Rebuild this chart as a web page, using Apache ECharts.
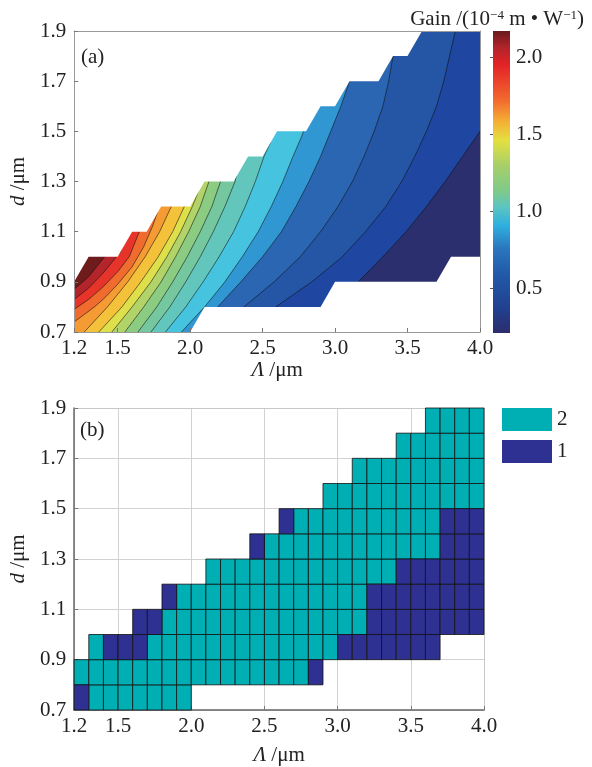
<!DOCTYPE html>
<html>
<head>
<meta charset="utf-8">
<script src="https://cdn.jsdelivr.net/npm/echarts@6/dist/echarts.min.js"></script>
<style>
  html, body { margin: 0; padding: 0; background: #fff; }
  #chart { width: 592px; height: 767px; }
</style>
</head>
<body>
<div id="chart"></div>
<script>
  // axis ticks
  const lambdaTicks = [1.2, 1.5, 2.0, 2.5, 3.0, 3.5, 4.0]
  const dTicks = [0.7, 0.9, 1.1, 1.3, 1.5, 1.7, 1.9]
  const gainTicks = [0.5, 1.0, 1.5, 2.0]
  const gainMin = 0.21
  const gainMax = 2.17

  // (a) contour levels and the traced iso-lines, [Λ, d], bottom -> top
  const levels = [0.42, 0.53, 0.64, 0.75, 0.86, 0.97, 1.08, 1.19, 1.30, 1.41, 1.52, 1.63, 1.74, 1.85, 1.96, 2.07]
  const contourLines = [
    [[2.95, 0.64], [3.06, 0.8], [3.16, 0.9], [3.33, 1.0], [3.49, 1.1], [3.63, 1.2], [3.76, 1.3], [3.88, 1.4], [4.0, 1.5], [4.12, 1.62]],
    [[2.48, 0.66], [2.59, 0.8], [2.84, 0.9], [3.05, 1.0], [3.21, 1.1], [3.35, 1.2], [3.46, 1.3], [3.55, 1.4], [3.63, 1.5], [3.7, 1.6], [3.75, 1.7], [3.79, 1.8], [3.83, 1.9], [3.86, 1.98]],
    [[2.28, 0.66], [2.37, 0.8], [2.58, 0.9], [2.76, 1.0], [2.9, 1.1], [3.02, 1.2], [3.12, 1.3], [3.2, 1.4], [3.27, 1.5], [3.33, 1.6], [3.37, 1.7], [3.4, 1.8], [3.42, 1.86]],
    [[2.08, 0.66], [2.19, 0.8], [2.35, 0.9], [2.5, 1.0], [2.63, 1.1], [2.73, 1.2], [2.82, 1.3], [2.9, 1.4], [2.97, 1.5], [3.04, 1.6], [3.1, 1.7], [3.13, 1.78]],
    [[1.82, 0.62], [1.94, 0.7], [2.1, 0.8], [2.24, 0.9], [2.36, 1.0], [2.47, 1.1], [2.56, 1.2], [2.64, 1.3], [2.71, 1.4], [2.77, 1.48], [2.8, 1.53], [2.84, 1.6]],
    [[1.71, 0.62], [1.83, 0.7], [1.97, 0.8], [2.09, 0.9], [2.2, 1.0], [2.3, 1.1], [2.38, 1.2], [2.45, 1.3], [2.51, 1.4], [2.55, 1.45], [2.58, 1.52]],
    [[1.61, 0.62], [1.73, 0.7], [1.86, 0.8], [1.97, 0.9], [2.07, 1.0], [2.16, 1.1], [2.24, 1.2], [2.31, 1.3], [2.34, 1.38]],
    [[1.52, 0.62], [1.64, 0.7], [1.77, 0.8], [1.88, 0.9], [1.98, 1.0], [2.07, 1.1], [2.15, 1.2], [2.21, 1.3], [2.24, 1.38]],
    [[1.43, 0.62], [1.55, 0.7], [1.68, 0.8], [1.8, 0.9], [1.9, 1.0], [1.99, 1.1], [2.07, 1.2], [2.13, 1.3], [2.16, 1.37]],
    [[1.34, 0.62], [1.46, 0.7], [1.6, 0.8], [1.73, 0.9], [1.84, 1.0], [1.935, 1.1], [2.015, 1.2], [2.05, 1.25], [2.08, 1.32]],
    [[1.25, 0.62], [1.37, 0.7], [1.53, 0.8], [1.66, 0.9], [1.78, 1.0], [1.88, 1.1], [1.96, 1.2], [1.99, 1.27]],
    [[1.15, 0.62], [1.27, 0.7], [1.43, 0.8], [1.57, 0.9], [1.69, 1.0], [1.79, 1.1], [1.87, 1.2], [1.9, 1.27]],
    [[1.1, 0.72], [1.2, 0.74], [1.27, 0.77], [1.34, 0.8], [1.4, 0.83], [1.5, 0.89], [1.6, 0.96], [1.68, 1.04], [1.74, 1.12], [1.77, 1.17], [1.8, 1.24]],
    [[1.1, 0.77], [1.2, 0.79], [1.3, 0.83], [1.4, 0.88], [1.5, 0.94], [1.58, 1.0], [1.65, 1.1], [1.68, 1.16]],
    [[1.1, 0.81], [1.2, 0.83], [1.3, 0.875], [1.4, 0.935], [1.52, 1.02], [1.56, 1.1]],
    [[1.1, 0.85], [1.2, 0.87], [1.3, 0.92], [1.41, 1.0], [1.45, 1.06]]
  ]
  // edges of the computed region
  const topEdge = [[1.2, 0.9], [1.3, 1.0], [1.5, 1.0], [1.6, 1.1], [1.7, 1.1], [1.8, 1.2], [2.0, 1.2], [2.1, 1.3], [2.3, 1.3],
    [2.4, 1.4], [2.5, 1.4], [2.6, 1.5], [2.8, 1.5], [2.9, 1.6], [3.0, 1.6], [3.1, 1.7], [3.3, 1.7], [3.4, 1.8], [3.5, 1.8], [3.6, 1.9]]
  const bottomEdge = [[2.0, 0.7], [2.1, 0.8], [2.9, 0.8], [3.0, 0.9], [3.7, 0.9], [3.8, 1.0], [4.0, 1.0]]

  const bandColors = ['#2c2f6d', '#1f46a0', '#2456a5', '#2b66b2', '#3197d3', '#45c3df', '#62c6bc', '#74c79f', '#8bcb82',
    '#b1d36a', '#dde04b', '#f4c13a', '#f59b33', '#f06c2e', '#e7342a', '#b3252a', '#6e1b1c']
  const cmapValues = [0.21, 0.36, 0.58, 0.75, 0.91, 1.03, 1.12, 1.29, 1.46, 1.58, 1.72, 1.95, 2.06, 2.17]
  const cmapColors = ['#2c2c6b', '#213f8f', '#2158a8', '#2a74bd', '#2fb0e0', '#5cc6c0', '#7cc98e', '#a5cf6a', '#e3e040',
    '#f5b035', '#f26a2e', '#e42227', '#b3242a', '#6b1a1c']

  // (b) cell classes, rows = lower d edge, columns = lower Λ edge (0 = no cell)
  const cellStep = 0.1
  const cellLambda = [1.2, 1.3, 1.4, 1.5, 1.6, 1.7, 1.8, 1.9, 2.0, 2.1, 2.2, 2.3, 2.4, 2.5, 2.6, 2.7, 2.8, 2.9, 3.0, 3.1, 3.2, 3.3, 3.4, 3.5, 3.6, 3.7, 3.8, 3.9]
  const cellD = [0.7, 0.8, 0.9, 1.0, 1.1, 1.2, 1.3, 1.4, 1.5, 1.6, 1.7, 1.8]
  const cellClass = [
    [1, 2, 2, 2, 2, 2, 2, 2, 0, 0, 0, 0, 0, 0, 0, 0, 0, 0, 0, 0, 0, 0, 0, 0, 0, 0, 0, 0],
    [2, 2, 2, 2, 2, 2, 2, 2, 2, 2, 2, 2, 2, 2, 2, 2, 1, 0, 0, 0, 0, 0, 0, 0, 0, 0, 0, 0],
    [0, 2, 1, 1, 1, 2, 2, 2, 2, 2, 2, 2, 2, 2, 2, 2, 2, 2, 1, 1, 1, 1, 1, 1, 1, 0, 0, 0],
    [0, 0, 0, 0, 1, 1, 2, 2, 2, 2, 2, 2, 2, 2, 2, 2, 2, 2, 2, 2, 1, 1, 1, 1, 1, 1, 1, 1],
    [0, 0, 0, 0, 0, 0, 1, 2, 2, 2, 2, 2, 2, 2, 2, 2, 2, 2, 2, 2, 1, 1, 1, 1, 1, 1, 1, 1],
    [0, 0, 0, 0, 0, 0, 0, 0, 0, 2, 2, 2, 2, 2, 2, 2, 2, 2, 2, 2, 2, 2, 1, 1, 1, 1, 1, 1],
    [0, 0, 0, 0, 0, 0, 0, 0, 0, 0, 0, 0, 1, 2, 2, 2, 2, 2, 2, 2, 2, 2, 2, 2, 2, 1, 1, 1],
    [0, 0, 0, 0, 0, 0, 0, 0, 0, 0, 0, 0, 0, 0, 1, 2, 2, 2, 2, 2, 2, 2, 2, 2, 2, 1, 1, 1],
    [0, 0, 0, 0, 0, 0, 0, 0, 0, 0, 0, 0, 0, 0, 0, 0, 0, 2, 2, 2, 2, 2, 2, 2, 2, 2, 2, 2],
    [0, 0, 0, 0, 0, 0, 0, 0, 0, 0, 0, 0, 0, 0, 0, 0, 0, 0, 0, 2, 2, 2, 2, 2, 2, 2, 2, 2],
    [0, 0, 0, 0, 0, 0, 0, 0, 0, 0, 0, 0, 0, 0, 0, 0, 0, 0, 0, 0, 0, 0, 2, 2, 2, 2, 2, 2],
    [0, 0, 0, 0, 0, 0, 0, 0, 0, 0, 0, 0, 0, 0, 0, 0, 0, 0, 0, 0, 0, 0, 0, 0, 2, 2, 2, 2]
  ]
  const classColors = { 2: '#00afb3', 1: '#2e3192' }

  const serif = "'Liberation Serif', 'DejaVu Serif', serif"
  const txt = '#222'

  function cellsOf(cls) {
    const out = []
    cellD.forEach((d, r) => {
      cellClass[r].forEach((c, i) => {
        if (c === cls) out.push([cellLambda[i], d])
      })
    })
    return out
  }

  function bandItem(params, api) {
    const k = params.dataIndex
    let pts
    if (k === 0) {
      pts = [[1.0, 0.5], [4.5, 0.5], [4.5, 2.6], [1.0, 2.6]]
    } else {
      const line = contourLines[k - 1]
      const first = line[0]
      const last = line[line.length - 1]
      pts = line.concat([[last[0], 2.6], [0.5, 2.6], [0.5, first[1]]])
    }
    return {
      type: 'polygon',
      z2: k,
      shape: { points: pts.map(p => api.coord(p)) },
      style: { fill: bandColors[k] }
    }
  }

  function contourItem(params, api) {
    return {
      type: 'polyline',
      shape: { points: contourLines[params.dataIndex].map(p => api.coord(p)) },
      style: { stroke: 'rgba(15,15,15,0.8)', lineWidth: 0.7, fill: null }
    }
  }

  function maskItem(params, api) {
    const pts = params.dataIndex === 0
      ? topEdge.concat([[3.6, 2.6], [1.0, 2.6], [1.0, 0.9]])
      : bottomEdge.concat([[4.5, 1.0], [4.5, 0.5], [2.0, 0.5]])
    return {
      type: 'polygon',
      shape: { points: pts.map(p => api.coord(p)) },
      style: { fill: '#fff' }
    }
  }

  function cellItem(params, api) {
    const x = api.value(0)
    const y = api.value(1)
    const p0 = api.coord([x, y + cellStep])
    const p1 = api.coord([x + cellStep, y])
    return {
      type: 'rect',
      shape: { x: p0[0], y: p0[1], width: p1[0] - p0[0], height: p1[1] - p0[1] },
      style: { fill: api.visual('color'), stroke: '#111', lineWidth: 0.8 }
    }
  }

  function colorbarItem(params, api) {
    const p0 = api.coord([0, gainMax])
    const p1 = api.coord([1, gainMin])
    const stops = cmapValues.map((v, i) => ({
      offset: (gainMax - v) / (gainMax - gainMin),
      color: cmapColors[i]
    })).reverse()
    return {
      type: 'rect',
      shape: { x: p0[0], y: p0[1], width: p1[0] - p0[0], height: p1[1] - p0[1] },
      style: { fill: new echarts.graphic.LinearGradient(0, 0, 0, 1, stops) }
    }
  }

  const label = { fontSize: 21, fontFamily: serif, color: txt }
  const nameStyle = { fontSize: 21, fontFamily: serif, color: txt, rich: { i: { fontSize: 21, fontFamily: serif, fontStyle: 'italic', color: txt } } }
  const fmt = v => v.toFixed(1)

  // panel (a) axes sit above the masks, panel (b) axes under the cells
  function xBottom(grid, lineColor, lineWidth, gap) {
    return {
      type: 'value', gridIndex: grid, min: 1.2, max: 4.0, position: 'bottom', z: grid === 1 ? 1 : 10,
      name: '{i|Λ} /μm', nameLocation: 'middle', nameGap: gap, nameTextStyle: nameStyle,
      axisLine: { lineStyle: { color: lineColor, width: lineWidth } },
      axisTick: { inside: true, length: 4, customValues: lambdaTicks, lineStyle: { color: '#777' } },
      axisLabel: { customValues: lambdaTicks, formatter: fmt, margin: 6, ...label },
      splitLine: grid === 1
        ? { show: true, lineStyle: { color: '#d2d2d2', width: 1 } }
        : { show: false }
    }
  }
  function yLeft(grid, lineColor, lineWidth, gap) {
    return {
      type: 'value', gridIndex: grid, min: 0.7, max: 1.9, position: 'left', z: grid === 1 ? 1 : 10,
      name: '{i|d} /μm', nameLocation: 'middle', nameGap: gap, nameTextStyle: nameStyle,
      axisLine: { lineStyle: { color: lineColor, width: lineWidth } },
      axisTick: { inside: true, length: 4, customValues: dTicks, lineStyle: { color: '#777' } },
      axisLabel: { customValues: dTicks, formatter: fmt, margin: 8, ...label },
      splitLine: grid === 1
        ? { show: true, lineStyle: { color: '#d2d2d2', width: 1 } }
        : { show: false }
    }
  }
  function frameAxis(kind, grid, pos, color) {
    const ax = {
      type: 'value', gridIndex: grid, position: pos, z: grid === 1 ? 1 : 10,
      axisLine: { show: true, lineStyle: { color: color, width: 1 } },
      axisTick: { show: false }, axisLabel: { show: false }, splitLine: { show: false }
    }
    if (kind === 'x') { ax.min = 1.2; ax.max = 4.0 } else { ax.min = 0.7; ax.max = 1.9 }
    return ax
  }

  const chart = echarts.init(document.getElementById('chart'), null, { renderer: 'canvas' })

  chart.setOption({
    animation: false,
    backgroundColor: '#fff',
    title: [
      {
        text: '{n|Gain /(10}{s|−4}{n| m • W}{s|−1}{n|)}',
        right: 3, top: 4,
        textStyle: {
          fontWeight: 'normal',
          rich: {
            n: { fontSize: 21, fontWeight: 'normal', fontFamily: serif, color: txt },
            s: { fontSize: 13, fontWeight: 'normal', fontFamily: serif, color: txt, verticalAlign: 'top' }
          }
        }
      },
      { text: '(a)', left: 76, top: 42, textStyle: { fontSize: 21, fontWeight: 'normal', fontFamily: serif, color: txt } },
      { text: '(b)', left: 75, top: 415, textStyle: { fontSize: 21, fontWeight: 'normal', fontFamily: serif, color: txt } }
    ],
    legend: {
      data: ['2', '1'],
      orient: 'vertical',
      left: 497, top: 403,
      itemWidth: 50, itemHeight: 23, itemGap: 9,
      icon: 'rect',
      selectedMode: false,
      textStyle: { fontSize: 21, fontFamily: serif, color: txt }
    },
    grid: [
      { left: 71, top: 31, width: 409, height: 301 },
      { left: 69, top: 408, width: 415, height: 302 },
      { left: 493, top: 31, width: 17, height: 302 }
    ],
    xAxis: [
      xBottom(0, '#9a9a9a', 1, 28),
      frameAxis('x', 0, 'top', '#9a9a9a'),
      xBottom(1, '#666', 1.5, 35),
      frameAxis('x', 1, 'top', '#c8c8c8'),
      { type: 'value', gridIndex: 2, min: 0, max: 1, show: false }
    ],
    yAxis: [
      yLeft(0, '#9a9a9a', 1, 44),
      frameAxis('y', 0, 'right', '#9a9a9a'),
      yLeft(1, '#666', 1.5, 44),
      frameAxis('y', 1, 'right', '#c8c8c8'),
      {
        type: 'value', gridIndex: 2, min: gainMin, max: gainMax, position: 'right', z: 10,
        axisLine: { show: false },
        axisTick: { inside: true, length: 3, customValues: gainTicks, lineStyle: { color: '#555' } },
        axisLabel: { customValues: gainTicks, formatter: fmt, margin: 6, ...label },
        splitLine: { show: false }
      }
    ],
    series: [
      {
        name: 'gain bands', type: 'custom', xAxisIndex: 0, yAxisIndex: 0, clip: true, z: 1,
        renderItem: bandItem,
        data: bandColors.map((c, i) => [1.2, 0.7, i === 0 ? gainMin : levels[i - 1]])
      },
      {
        name: 'contours', type: 'custom', xAxisIndex: 0, yAxisIndex: 0, clip: true, z: 2,
        renderItem: contourItem,
        data: levels.map((v, i) => [contourLines[i][0][0], contourLines[i][0][1], v])
      },
      {
        name: 'region edge', type: 'custom', xAxisIndex: 0, yAxisIndex: 0, clip: true, z: 3,
        renderItem: maskItem,
        data: [topEdge[0], bottomEdge[0]]
      },
      {
        name: '2', type: 'custom', xAxisIndex: 2, yAxisIndex: 2, z: 2,
        itemStyle: { color: classColors[2] },
        renderItem: cellItem,
        data: cellsOf(2)
      },
      {
        name: '1', type: 'custom', xAxisIndex: 2, yAxisIndex: 2, z: 2,
        itemStyle: { color: classColors[1] },
        renderItem: cellItem,
        data: cellsOf(1)
      },
      {
        name: 'colorbar', type: 'custom', xAxisIndex: 4, yAxisIndex: 4, z: 2,
        renderItem: colorbarItem,
        data: [[0, gainMin]]
      }
    ]
  })
</script>
</body>
</html>
